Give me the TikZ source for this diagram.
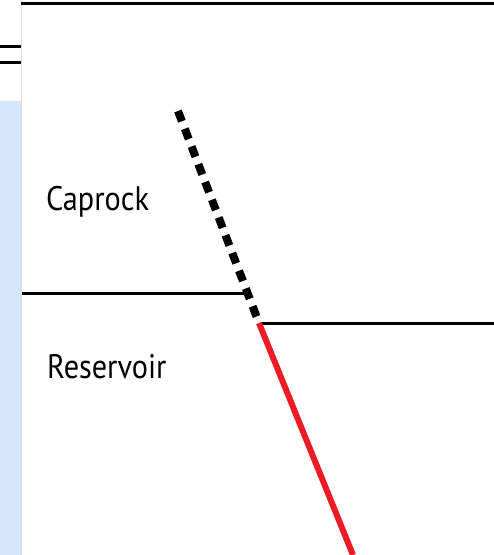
\documentclass[tikz,border=0pt]{standalone}
\usepackage{fontspec}
\setmainfont{PT Sans}
\definecolor{stripblue}{HTML}{D4E6FC}
\definecolor{faultred}{HTML}{ED1C24}
\definecolor{edgegray}{HTML}{DDDDDD}
\begin{document}
\begin{tikzpicture}[x=1pt,y=-1pt,
  layerline/.style={line width=3pt,black},
  lbl/.style={anchor=base west,inner sep=0pt,xscale=0.89,font=\fontsize{34}{40}\selectfont}]
\useasboundingbox (0,0) rectangle (494,555);
\fill[white] (0,0) rectangle (494,555);
% blue strip
\fill[stripblue] (0,101) rectangle (21,555);
\draw[edgegray,line width=1pt] (21.5,0) -- (21.5,555);
% top line and short left marks
\draw[layerline] (21,3) -- (494,3);
\draw[layerline] (0,46.5) -- (21,46.5);
\draw[layerline] (0,62) -- (21,62);
% horizons
\coordinate (faulttop) at (178,111);
\coordinate (faultmid) at (259,323);
\coordinate (faultbot) at (353,555);
\draw[layerline] (22,293) -- (249,293);
\draw[layerline] (261,323) -- (494,323);
% fault
\draw[line width=8pt,dash pattern=on 11pt off 8pt] (faulttop) -- (faultmid);
\draw[faultred,line width=6pt] (faultmid) -- (faultbot);
% labels
\node[lbl] (caprock) at (46,210) {Caprock};
\node[lbl] (reservoir) at (47,378) {Reservoir};
\end{tikzpicture}
\end{document}
